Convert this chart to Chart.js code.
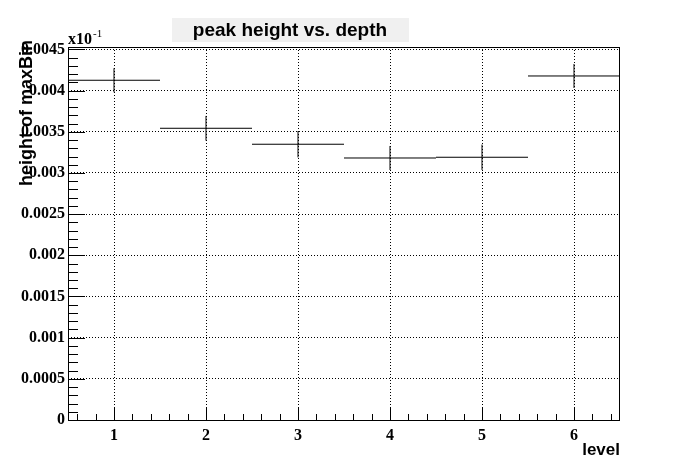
<!DOCTYPE html>
<html>
<head>
<meta charset="utf-8">
<script src="https://cdn.jsdelivr.net/npm/chart.js@4"></script>
<style>
  html, body { margin: 0; padding: 0; background: #fff; }
  #wrap { width: 689px; height: 467px; }
</style>
</head>
<body>
<div id="wrap"><canvas id="myChart" width="689" height="467"></canvas></div>
<script>
// bins of the histogram
const levels = [1, 2, 3, 4, 5, 6];
const heights = [0.004126, 0.003543, 0.003349, 0.003182, 0.003191, 0.004178];
const errors = [0.000146, 0.00015, 0.00016, 0.000146, 0.000154, 0.000146];
const yTicks = [0, 0.0005, 0.001, 0.0015, 0.002, 0.0025, 0.003, 0.0035, 0.004, 0.0045];

const titleText = "peak height vs. depth";
const xTitle = "level";
const yTitle = "height of maxBin";

// horizontal bin lines and vertical error bars, gaps between with null
const binLines = [];
const errLines = [];
levels.forEach((lv, i) => {
    binLines.push({ x: lv - 0.5, y: heights[i] }, { x: lv + 0.5, y: heights[i] }, { x: lv + 0.5, y: null });
    errLines.push({ x: lv, y: heights[i] - errors[i] }, { x: lv, y: heights[i] + errors[i] }, { x: lv, y: null });
});

// root style frame, inward ticks and texts
const rootStyle = {
    id: "rootStyle",
    beforeDraw(chart) {
        const c = chart.ctx;
        c.save();
        c.fillStyle = "#fff";
        c.fillRect(0, 0, chart.width, chart.height);
        c.restore();
    },
    afterDraw(chart) {
        const c = chart.ctx;
        const a = chart.chartArea;
        const xs = chart.scales.x;
        const ys = chart.scales.y;
        c.save();
        c.strokeStyle = "#000";
        c.lineWidth = 1;
        c.strokeRect(Math.round(a.left) + 0.5, Math.round(a.top) + 0.5,
            Math.round(a.right - a.left) - 1, Math.round(a.bottom - a.top));

        c.beginPath();
        // y ticks, 4 minor between majors
        for (let k = 0; k <= 45; k++) {
            const v = k * 0.0001;
            const py = Math.round(ys.getPixelForValue(v)) + 0.5;
            const len = k % 5 === 0 ? 17 : 10;
            c.moveTo(a.left, py);
            c.lineTo(a.left + len, py);
        }
        // x ticks every 0.2
        for (let k = 3; k <= 32; k++) {
            const v = k * 0.2;
            const px = Math.round(xs.getPixelForValue(v)) + 0.5;
            const len = k % 5 === 0 ? 12 : 6;
            c.moveTo(px, a.bottom);
            c.lineTo(px, a.bottom - len);
        }
        c.stroke();

        // title box
        c.fillStyle = "#f0f0f0";
        c.fillRect(172, 18, 237, 24);
        c.fillStyle = "#000";
        c.font = "bold 19px 'Liberation Sans', Arial, sans-serif";
        c.textAlign = "center";
        c.textBaseline = "middle";
        c.fillText(titleText, 290, 31);

        // axis titles
        c.font = "bold 17px 'Liberation Sans', Arial, sans-serif";
        c.textAlign = "right";
        c.textBaseline = "alphabetic";
        c.fillText(xTitle, a.right, 455);

        c.save();
        c.translate(32, 40);
        c.rotate(-Math.PI / 2);
        c.font = "bold 18px 'Liberation Sans', Arial, sans-serif";
        c.textAlign = "right";
        c.fillText(yTitle, 0, 0);
        c.restore();

        // exponent label
        c.textAlign = "left";
        c.font = "bold 16px 'Liberation Serif', 'Times New Roman', serif";
        c.fillText("x10", a.left, 44);
        c.font = "11px 'Liberation Serif', 'Times New Roman', serif";
        c.fillText("-1", a.left + 25, 37);
        c.restore();
    }
};

const ctx = document.getElementById("myChart");

new Chart(ctx, {
    type: "line",
    data: {
        datasets: [
            {
                label: "bins",
                data: binLines,
                borderColor: "#000",
                borderWidth: 1,
                pointRadius: 0,
                spanGaps: false,
            },
            {
                label: "errors",
                data: errLines,
                borderColor: "#000",
                borderWidth: 1,
                pointRadius: 0,
                spanGaps: false,
            },
        ],
    },
    options: {
        responsive: false,
        animation: false,
        layout: {
            padding: { left: 0, right: 69, top: 47, bottom: 0 },
        },
        scales: {
            x: {
                type: "linear",
                min: 0.5,
                max: 6.5,
                afterFit: (scale) => { scale.height = 47; },
                afterBuildTicks: (scale) => {
                    scale.ticks = levels.map((v) => ({ value: v }));
                },
                ticks: {
                    padding: 6,
                    color: "#000",
                    font: { family: "'Liberation Serif', 'Times New Roman', serif", size: 16, weight: "bold" },
                },
                grid: { color: "#000", lineWidth: 1, drawTicks: false },
                border: { display: false, dash: [1, 2] },
            },
            y: {
                type: "linear",
                min: 0,
                max: 0.00453,
                afterFit: (scale) => { scale.width = 68; },
                afterBuildTicks: (scale) => {
                    scale.ticks = yTicks.map((v) => ({ value: v }));
                },
                ticks: {
                    padding: 3,
                    color: "#000",
                    font: { family: "'Liberation Serif', 'Times New Roman', serif", size: 16, weight: "bold" },
                    callback: (v) => parseFloat(v.toFixed(4)).toString(),
                },
                grid: { color: "#000", lineWidth: 1, drawTicks: false },
                border: { display: false, dash: [1, 2] },
            },
        },
        plugins: {
            legend: { display: false },
            title: { display: false },
            tooltip: { enabled: false },
        },
    },
    plugins: [rootStyle],
});
</script>
</body>
</html>
